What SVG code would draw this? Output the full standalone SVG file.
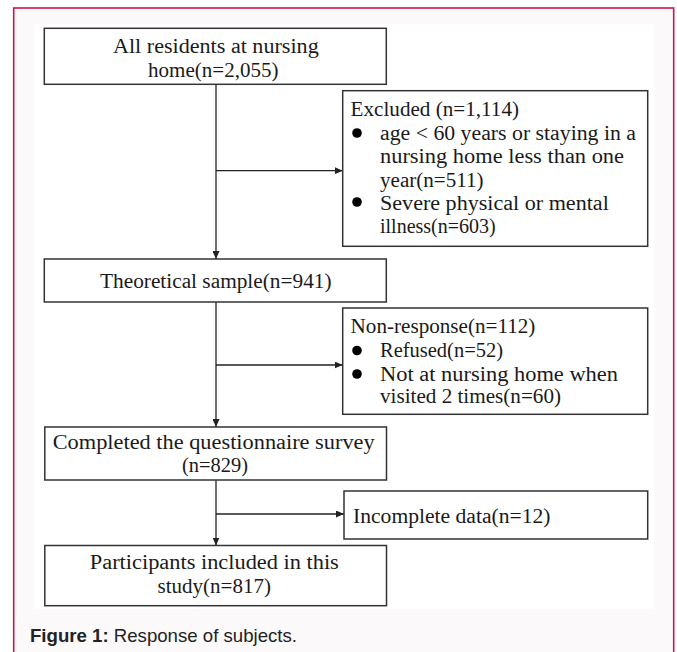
<svg xmlns="http://www.w3.org/2000/svg" width="677" height="652" viewBox="0 0 677 652">
<style>
.box{fill:#ffffff;stroke:#333333;stroke-width:1.5}
.t{font-family:"Liberation Serif","Times New Roman",serif;font-size:20px;fill:#1a1a1a}
.c{stroke:#222222;stroke-width:1.3;fill:none}
.b{fill:#000000}
</style>
<defs>
<marker id="ah" markerUnits="userSpaceOnUse" markerWidth="8" markerHeight="7" refX="8" refY="3.5" orient="auto">
<path d="M0,0 L8,3.5 L0,7 z" fill="#222222"/>
</marker>
</defs>
<rect x="0" y="0" width="677" height="652" fill="#ffffff"/>
<rect x="13.7" y="8" width="660" height="660" fill="#fcf9fb" stroke="#c8174b" stroke-width="1.6"/>
<rect x="34" y="24" width="620" height="585" fill="#ffffff"/>

<g id="connectors">
<line class="c" x1="216" y1="84.3" x2="216" y2="259" marker-end="url(#ah)"/>
<line class="c" x1="216" y1="170.7" x2="342.7" y2="170.7" marker-end="url(#ah)"/>
<line class="c" x1="216" y1="302" x2="216" y2="427" marker-end="url(#ah)"/>
<line class="c" x1="216" y1="365" x2="342.7" y2="365" marker-end="url(#ah)"/>
<line class="c" x1="216" y1="480" x2="216" y2="545.5" marker-end="url(#ah)"/>
<line class="c" x1="216" y1="514" x2="344" y2="514" marker-end="url(#ah)"/>
</g>

<g id="n1">
<rect class="box" x="44.3" y="28.3" width="342" height="56"/>
<text class="t" x="113" y="53" textLength="205.7" lengthAdjust="spacingAndGlyphs">All residents at nursing</text>
<text class="t" x="148" y="76.5" textLength="130.5" lengthAdjust="spacingAndGlyphs">home(n=2,055)</text>
</g>

<g id="n2">
<rect class="box" x="342.7" y="90.7" width="305" height="155.6"/>
<text class="t" x="350.6" y="116" textLength="168.4" lengthAdjust="spacingAndGlyphs">Excluded (n=1,114)</text>
<circle class="b" cx="357" cy="133" r="4.8"/>
<text class="t" x="380" y="139.5" textLength="256" lengthAdjust="spacingAndGlyphs">age &lt; 60 years or staying in a</text>
<text class="t" x="380" y="163" textLength="244" lengthAdjust="spacingAndGlyphs">nursing home less than one</text>
<text class="t" x="380" y="186.5" textLength="103.6" lengthAdjust="spacingAndGlyphs">year(n=511)</text>
<circle class="b" cx="357" cy="202" r="4.8"/>
<text class="t" x="380" y="209.5" textLength="228.8" lengthAdjust="spacingAndGlyphs">Severe physical or mental</text>
<text class="t" x="380" y="233" textLength="115.7" lengthAdjust="spacingAndGlyphs">illness(n=603)</text>
</g>

<g id="n3">
<rect class="box" x="44.3" y="259" width="342" height="43"/>
<text class="t" x="100" y="288" textLength="231.6" lengthAdjust="spacingAndGlyphs">Theoretical sample(n=941)</text>
</g>

<g id="n4">
<rect class="box" x="342.7" y="308" width="305" height="106.3"/>
<text class="t" x="350.6" y="333" textLength="184.8" lengthAdjust="spacingAndGlyphs">Non-response(n=112)</text>
<circle class="b" cx="357" cy="350.5" r="4.8"/>
<text class="t" x="380" y="357" textLength="123" lengthAdjust="spacingAndGlyphs">Refused(n=52)</text>
<circle class="b" cx="357" cy="374" r="4.8"/>
<text class="t" x="380" y="380.5" textLength="238" lengthAdjust="spacingAndGlyphs">Not at nursing home when</text>
<text class="t" x="380" y="403" textLength="181" lengthAdjust="spacingAndGlyphs">visited 2 times(n=60)</text>
</g>

<g id="n5">
<rect class="box" x="44.8" y="427" width="341.7" height="53"/>
<text class="t" x="52.7" y="448.5" textLength="322" lengthAdjust="spacingAndGlyphs">Completed the questionnaire survey</text>
<text class="t" x="182" y="472" textLength="66" lengthAdjust="spacingAndGlyphs">(n=829)</text>
</g>

<g id="n6">
<rect class="box" x="344" y="491" width="303.7" height="48"/>
<text class="t" x="353" y="522.5" textLength="197.5" lengthAdjust="spacingAndGlyphs">Incomplete data(n=12)</text>
</g>

<g id="n7">
<rect class="box" x="44.8" y="545.5" width="341.7" height="60.2"/>
<text class="t" x="89.8" y="569" textLength="249" lengthAdjust="spacingAndGlyphs">Participants included in this</text>
<text class="t" x="157.6" y="592.5" textLength="113.4" lengthAdjust="spacingAndGlyphs">study(n=817)</text>
</g>

<text x="30" y="642" font-family="'Liberation Sans',Arial,sans-serif" font-size="19" fill="#222222" textLength="267" lengthAdjust="spacingAndGlyphs"><tspan font-weight="bold">Figure 1:</tspan> Response of subjects.</text>
</svg>
